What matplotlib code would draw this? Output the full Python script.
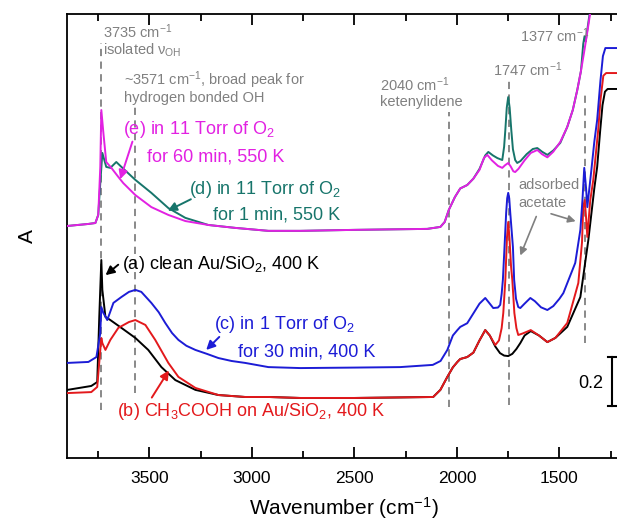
import matplotlib
matplotlib.use("Agg")
import matplotlib.pyplot as plt

plt.rcParams["font.family"] = ["Liberation Sans", "DejaVu Sans"]
plt.rcParams["mathtext.fontset"] = "custom"
plt.rcParams["mathtext.rm"] = "Liberation Sans"
plt.rcParams["mathtext.it"] = "Liberation Sans:italic"
plt.rcParams["mathtext.default"] = "regular"

# (a) clean Au/SiO2, 400 K
wn_a = [3900, 3784, 3755, 3745, 3735, 3730, 3715, 3691, 3637, 3569,
        3506, 3442, 3374, 3276, 3164, 3033, 2920, 2764, 2500, 2300,
        2116, 2081, 2047, 2020, 1998, 1984, 1950, 1920, 1890, 1862,
        1840, 1813, 1790, 1770, 1750, 1730, 1710, 1691, 1670, 1640,
        1600, 1559, 1520, 1462, 1398, 1359, 1330, 1316, 1301, 1290,
        1278, 1265, 1200]
abs_a = [0.278, 0.294, 0.310, 0.576, 0.808, 0.686, 0.576, 0.563, 0.531, 0.490,
         0.441, 0.371, 0.318, 0.278, 0.257, 0.249, 0.249, 0.245, 0.245, 0.247,
         0.249, 0.278, 0.331, 0.370, 0.392, 0.404, 0.412, 0.430, 0.480, 0.522,
         0.500, 0.455, 0.428, 0.418, 0.416, 0.425, 0.445, 0.469, 0.500, 0.518,
         0.500, 0.473, 0.490, 0.535, 0.657, 0.890, 1.100, 1.188, 1.339, 1.440,
         1.495, 1.506, 1.506]

# (b) CH3COOH on Au/SiO2, 400 K
wn_b = [3900, 3784, 3755, 3740, 3735, 3730, 3715, 3691, 3652, 3600,
        3569, 3520, 3472, 3408, 3359, 3276, 3164, 3033, 2920, 2764,
        2500, 2300, 2116, 2081, 2047, 2020, 1998, 1984, 1950, 1920,
        1890, 1862, 1840, 1813, 1795, 1782, 1774, 1764, 1756, 1750,
        1744, 1736, 1730, 1720, 1710, 1701, 1680, 1640, 1600, 1559,
        1520, 1462, 1408, 1390, 1384, 1377, 1370, 1364, 1350, 1335,
        1311, 1300, 1286, 1272, 1200]
abs_b = [0.265, 0.269, 0.290, 0.441, 0.490, 0.469, 0.441, 0.482, 0.531, 0.555,
         0.563, 0.543, 0.482, 0.388, 0.331, 0.286, 0.257, 0.249, 0.249, 0.245,
         0.245, 0.247, 0.249, 0.278, 0.331, 0.370, 0.392, 0.404, 0.412, 0.430,
         0.480, 0.522, 0.500, 0.461, 0.480, 0.530, 0.592, 0.727, 0.900, 0.963,
         0.900, 0.780, 0.727, 0.592, 0.530, 0.502, 0.508, 0.522, 0.500, 0.473,
         0.490, 0.551, 0.714, 0.880, 1.024, 1.053, 0.980, 0.902, 1.050, 1.135,
         1.339, 1.460, 1.560, 1.571, 1.571]

# (c) in 1 Torr of O2 for 30 min, 400 K
wn_c = [3900, 3798, 3759, 3740, 3735, 3725, 3706, 3676, 3637, 3600,
        3569, 3540, 3491, 3455, 3423, 3390, 3359, 3320, 3276, 3220,
        3164, 3100, 3033, 2920, 2764, 2500, 2277, 2118, 2080, 2047,
        2020, 1998, 1984, 1950, 1920, 1890, 1862, 1840, 1823, 1800,
        1789, 1782, 1776, 1768, 1760, 1755, 1750, 1745, 1740, 1727,
        1721, 1712, 1701, 1691, 1670, 1642, 1620, 1590, 1559, 1530,
        1500, 1481, 1423, 1398, 1388, 1379, 1370, 1364, 1345, 1330,
        1316, 1300, 1288, 1276, 1200]
abs_c = [0.388, 0.392, 0.412, 0.510, 0.616, 0.592, 0.563, 0.633, 0.657, 0.678,
         0.686, 0.678, 0.633, 0.595, 0.551, 0.510, 0.482, 0.458, 0.441, 0.425,
         0.408, 0.396, 0.388, 0.371, 0.367, 0.369, 0.371, 0.380, 0.396, 0.441,
         0.500, 0.522, 0.535, 0.550, 0.590, 0.630, 0.653, 0.630, 0.612, 0.614,
         0.625, 0.670, 0.727, 0.861, 1.000, 1.060, 1.082, 1.060, 1.000, 0.861,
         0.727, 0.650, 0.616, 0.612, 0.630, 0.653, 0.640, 0.615, 0.604, 0.620,
         0.650, 0.673, 0.796, 0.931, 1.050, 1.184, 1.100, 1.024, 1.170, 1.290,
         1.380, 1.540, 1.640, 1.673, 1.673]

# (d) in 11 Torr of O2 for 1 min, 550 K
wn_d = [3900, 3800, 3764, 3750, 3740, 3730, 3711, 3691, 3662, 3637,
        3569, 3491, 3408, 3325, 3213, 3081, 2920, 2764, 2500, 2145,
        2081, 2060, 2040, 2010, 1984, 1950, 1920, 1890, 1862, 1847,
        1825, 1803, 1779, 1770, 1764, 1757, 1750, 1743, 1735, 1727,
        1716, 1706, 1690, 1660, 1630, 1608, 1585, 1559, 1530, 1496,
        1462, 1435, 1413, 1395, 1384, 1378, 1372, 1362, 1350, 1335]
abs_d = [0.947, 0.955, 0.959, 0.992, 1.122, 1.245, 1.188, 1.184, 1.208, 1.188,
         1.135, 1.082, 1.020, 0.980, 0.951, 0.939, 0.927, 0.927, 0.931, 0.935,
         0.943, 0.963, 1.012, 1.065, 1.100, 1.114, 1.140, 1.180, 1.235, 1.249,
         1.235, 1.224, 1.216, 1.270, 1.339, 1.430, 1.473, 1.430, 1.339, 1.260,
         1.216, 1.204, 1.212, 1.240, 1.261, 1.265, 1.250, 1.237, 1.255, 1.286,
         1.351, 1.420, 1.502, 1.580, 1.690, 1.720, 1.700, 1.760, 1.830, 1.950]

# (e) in 11 Torr of O2 for 60 min, 550 K
wn_e = [3900, 3800, 3764, 3750, 3740, 3735, 3725, 3711, 3686, 3652,
        3628, 3569, 3491, 3408, 3325, 3213, 3081, 2920, 2764, 2500,
        2145, 2081, 2060, 2040, 2010, 1984, 1950, 1920, 1890, 1868,
        1852, 1830, 1800, 1779, 1765, 1750, 1738, 1725, 1716, 1700,
        1670, 1640, 1608, 1585, 1559, 1530, 1496, 1462, 1435, 1413,
        1395, 1377, 1362, 1350, 1335]
abs_e = [0.947, 0.955, 0.959, 0.992, 1.188, 1.420, 1.327, 1.208, 1.184, 1.147,
         1.122, 1.073, 1.024, 0.992, 0.967, 0.951, 0.939, 0.927, 0.927, 0.931,
         0.935, 0.943, 0.963, 1.012, 1.065, 1.100, 1.114, 1.140, 1.176, 1.225,
         1.237, 1.215, 1.192, 1.184, 1.195, 1.204, 1.190, 1.170, 1.167, 1.180,
         1.215, 1.245, 1.257, 1.240, 1.227, 1.250, 1.290, 1.351, 1.420, 1.502,
         1.580, 1.670, 1.750, 1.816, 1.950]

# marked band positions and extent of the dashed guide lines
band_wn = [3735, 3571, 2040, 1747, 1377]
band_top = [1.694, 1.433, 1.412, 1.551, 1.482]
band_bottom = [0.196, 0.265, 0.208, 0.216, 0.469]

C_A, C_B, C_C = "black", "#e3191c", "#1c1cd6"
C_D, C_E = "#17756b", "#e221e2"
GRAY = "#808080"

fig = plt.figure(figsize=(6.17, 5.22), dpi=100)
ax = fig.add_axes([0.1094, 0.1226, 0.897, 0.8506])

for x, y0, y1 in zip(band_wn, band_bottom, band_top):
    ax.plot([x, x], [y0, y1], color=GRAY, lw=1.3, ls=(0, (4, 3)), zorder=1)

line_kw = dict(lw=1.4, zorder=3, solid_joinstyle="round")
ax.plot(wn_a, abs_a, color=C_A, **line_kw)
ax.plot(wn_b, abs_b, color=C_B, **line_kw)
ax.plot(wn_c, abs_c, color=C_C, **line_kw)
ax.plot(wn_d, abs_d, color=C_D, **line_kw)
ax.plot(wn_e, abs_e, color=C_E, **line_kw)

ax.set_xlim(3900, 1200)
ax.set_ylim(0, 1.812)
ax.set_xticks([3500, 3000, 2500, 2000, 1500])
ax.set_xticks([3750, 3250, 2750, 2250, 1750, 1250], minor=True)
ax.set_yticks([])
ax.tick_params(axis="x", which="both", direction="in", top=True,
               labelsize=12.5, width=1.3, pad=9)
ax.tick_params(axis="x", which="major", length=8)
ax.tick_params(axis="x", which="minor", length=5)
for s in ax.spines.values():
    s.set_linewidth(1.3)
ax.set_xlabel("Wavenumber (cm$^{-1}$)", fontsize=15, labelpad=7)
ax.set_ylabel("A", fontsize=15, labelpad=22)

# gray band annotations
gk = dict(color=GRAY, fontsize=10.5, va="center", ha="left")
ax.text(3725, 1.739, "3735 cm$^{-1}$", **gk)
ax.text(3725, 1.665, "isolated ν$_{OH}$", **gk)
ax.text(3623, 1.543, "~3571 cm$^{-1}$, broad peak for", **gk)
ax.text(3623, 1.469, "hydrogen bonded OH", **gk)
ax.text(2374, 1.522, "2040 cm$^{-1}$", **gk)
ax.text(2374, 1.453, "ketenylidene", **gk)
ax.text(1823, 1.584, "1747 cm$^{-1}$", **gk)
ax.text(1691, 1.722, "1377 cm$^{-1}$", **gk)
ax.text(1701, 1.114, "adsorbed", **gk)
ax.text(1701, 1.041, "acetate", **gk)
gar = dict(arrowstyle="-|>", color=GRAY, lw=1.2, mutation_scale=11)
ax.annotate("", xy=(1696, 0.816), xytext=(1608, 0.996), arrowprops=gar)
ax.annotate("", xy=(1408, 0.963), xytext=(1554, 1.000), arrowprops=gar)

# curve labels
def label(x, y, s, c):
    ax.text(x, y, s, color=c, fontsize=13, va="center", ha="left")

def arrow(x0, y0, x1, y1, c):
    ax.annotate("", xy=(x1, y1), xytext=(x0, y0),
                arrowprops=dict(arrowstyle="-|>", color=c, lw=1.4,
                                mutation_scale=13))

label(3628, 1.339, "(e) in 11 Torr of O$_2$", C_E)
label(3511, 1.229, "for 60 min, 550 K", C_E)
arrow(3579, 1.302, 3647, 1.127, C_E)

label(3306, 1.094, "(d) in 11 Torr of O$_2$", C_D)
label(3189, 0.992, "for 1 min, 550 K", C_D)
arrow(3286, 1.061, 3423, 1.004, C_D)

label(3633, 0.788, "(a) clean Au/SiO$_2$, 400 K", C_A)
arrow(3642, 0.796, 3725, 0.739, C_A)

label(3184, 0.543, "(c) in 1 Torr of O$_2$", C_C)
label(3067, 0.433, "for 30 min, 400 K", C_C)
arrow(3150, 0.502, 3233, 0.433, C_C)

label(3657, 0.188, "(b) CH$_3$COOH on Au/SiO$_2$, 400 K", C_B)
arrow(3496, 0.237, 3398, 0.367, C_B)

# 0.2 absorbance scale bar
ax.plot([1242, 1242], [0.212, 0.412], color="black", lw=1.5)
ax.plot([1262, 1223], [0.212, 0.212], color="black", lw=1.5)
ax.plot([1262, 1223], [0.412, 0.412], color="black", lw=1.5)
ax.text(1286, 0.306, "0.2", fontsize=13, ha="right", va="center")

fig.savefig("out.png", dpi=100)
